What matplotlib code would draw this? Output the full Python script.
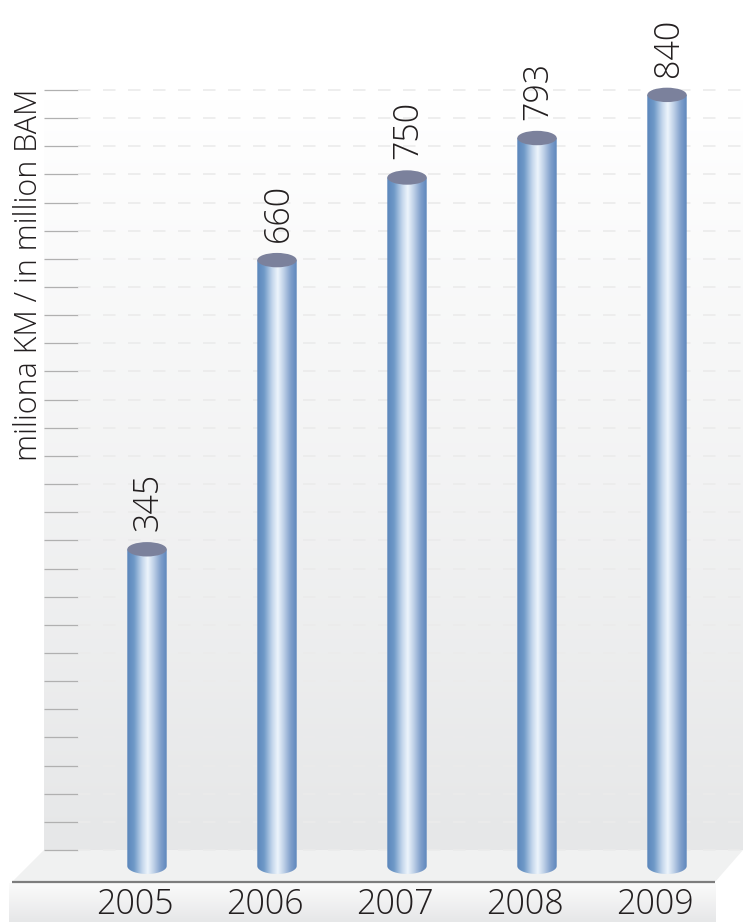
import numpy as np
import matplotlib
matplotlib.use('Agg')
import matplotlib.pyplot as plt
from matplotlib.colors import LinearSegmentedColormap
from matplotlib.patches import Ellipse, Polygon

years = ['2005', '2006', '2007', '2008', '2009']
values = [345, 660, 750, 793, 840]
y_title = 'miliona KM / in million BAM'

W, H = 743, 922
X_STEP = 130.0    # pixels between columns
X_FIRST = 147.0
Y_ZERO = 866.0    # pixel row of value 0
Y_SCALE = 0.918   # pixels per unit

plt.rcParams['font.family'] = ['Open Sans', 'DejaVu Sans']
plt.rcParams['font.weight'] = 'light'
text_color = '#231f20'


def xu(px):
    return (px - X_FIRST) / X_STEP


def yu(py):
    return (Y_ZERO - py) / Y_SCALE


def v_gradient(ax, x0, x1, y0, y1, c_top, c_bottom, z):
    cmap = LinearSegmentedColormap.from_list('g', [c_top, c_bottom])
    grad = np.linspace(0, 1, 256).reshape(-1, 1)
    ax.imshow(grad, cmap=cmap, aspect='auto', zorder=z,
              extent=(xu(x0), xu(x1), yu(y1), yu(y0)), origin='upper')


fig = plt.figure(figsize=(W / 100, H / 100), dpi=100)
ax = fig.add_axes([0, 0, 1, 1])

# back wall, floor and the band under the axis line
v_gradient(ax, 44, W, 100, 850, '#ffffff', '#e6e7e8', 1)
ax.add_patch(Polygon([(xu(44), yu(850)), (xu(743), yu(850)),
                      (xu(715), yu(882)), (xu(12), yu(882))],
                     closed=True, fc='#f0f1f1', ec='none', zorder=2))
v_gradient(ax, 9, 716, 883, H, '#fbfbfb', '#e6e7e8', 2)
ax.hlines(yu(882), xu(12), xu(715), color='#7d7d7d', lw=1.6, zorder=3)

# scale ticks and dashed guides across the wall
tick_rows = np.linspace(850, 90, 28)
ax.hlines(yu(tick_rows), xu(44), xu(78), color='#b0b0b0', lw=0.9, zorder=3)
for row in tick_rows:
    ax.plot([xu(78), xu(743)], [yu(row), yu(row)], color='#ebebeb', lw=1.2,
            dashes=(7.5, 7.5), zorder=3)

# metallic columns
steel = LinearSegmentedColormap.from_list('steel', [
    (0.0, '#5a85bb'), (0.18, '#709ac8'), (0.38, '#c4d6ec'), (0.52, '#edf5fc'),
    (0.66, '#c2d3e9'), (0.85, '#7f9fcb'), (1.0, '#5d87bc')])
ramp = np.linspace(0, 1, 256).reshape(1, -1)
half_w = 19.7 / X_STEP
half_h = 8 / Y_SCALE

for i, (year, val) in enumerate(zip(years, values)):
    t = np.linspace(np.pi, 2 * np.pi, 40)
    outline = np.column_stack([i + half_w * np.cos(t), half_h * np.sin(t)])
    outline = np.vstack([outline, [i + half_w, val], [i - half_w, val]])
    clip = Polygon(outline, closed=True, transform=ax.transData, fc='none', ec='none')
    ax.add_patch(clip)
    im = ax.imshow(ramp, cmap=steel, aspect='auto', zorder=4,
                   extent=(i - half_w, i + half_w, -half_h, val))
    im.set_clip_path(clip)
    ax.add_patch(Ellipse((i, val), 2 * half_w, 2 * half_h * 0.9, fc='#7b819c',
                         ec='none', zorder=5))
    ax.annotate(str(val), (i, val), xytext=(1, 13), textcoords='offset points',
                rotation=90, ha='center', va='bottom', fontsize=24.5,
                color=text_color, zorder=6)
    # year labels sit a little left of their columns
    ax.text(i - 12 / X_STEP, yu(905), year, ha='center', va='center', fontsize=24.5,
            color=text_color, zorder=6)

ax.text(xu(29), yu(275), y_title, rotation=90, ha='center', va='center',
        fontsize=22, color=text_color)

ax.set_xlim(xu(0), xu(W))
ax.set_ylim(yu(H), yu(0))
ax.axis('off')
fig.savefig('out.png', dpi=100, facecolor='white')
